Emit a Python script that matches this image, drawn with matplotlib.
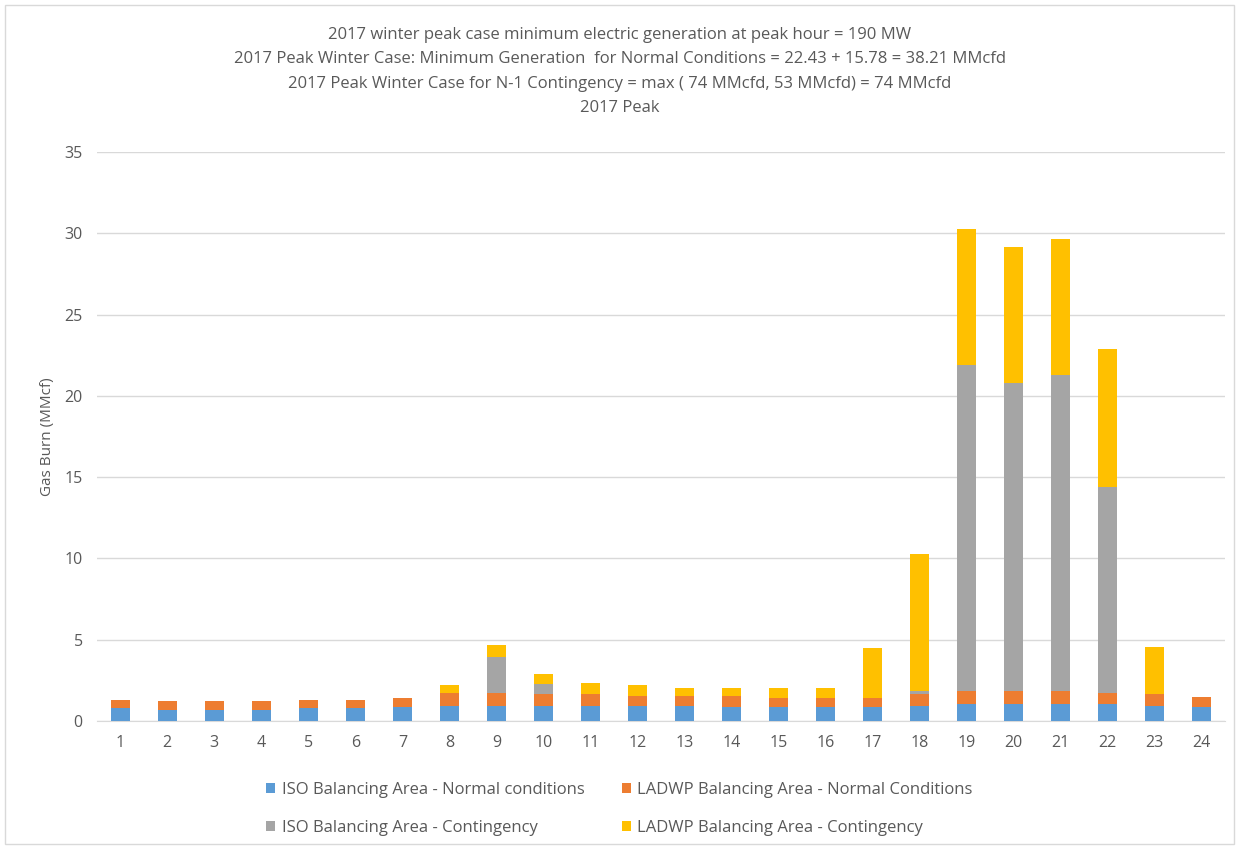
import numpy as np
import matplotlib
matplotlib.use("Agg")
import matplotlib.pyplot as plt
from matplotlib.patches import Rectangle

plt.rcParams['font.family'] = ['Open Sans', 'DejaVu Sans']

hours = list(range(1, 25))
iso_normal = [0.76, 0.66, 0.66, 0.66, 0.76, 0.76, 0.82, 0.92, 0.92, 0.92, 0.92, 0.92,
              0.92, 0.82, 0.82, 0.82, 0.82, 0.92, 1.04, 1.04, 1.04, 1.04, 0.92, 0.82]
ladwp_normal = [0.51, 0.53, 0.53, 0.53, 0.51, 0.51, 0.61, 0.76, 0.76, 0.72, 0.72, 0.60,
                0.60, 0.70, 0.61, 0.61, 0.61, 0.72, 0.77, 0.77, 0.77, 0.70, 0.73, 0.64]
iso_cont = [0, 0, 0, 0, 0, 0, 0, 0.06, 2.26, 0.62, 0, 0,
            0, 0, 0, 0, 0, 0.17, 20.07, 18.99, 19.44, 12.66, 0, 0]
ladwp_cont = [0, 0, 0, 0, 0, 0, 0, 0.45, 0.71, 0.65, 0.66, 0.67,
              0.47, 0.47, 0.56, 0.56, 3.02, 8.46, 8.40, 8.38, 8.40, 8.47, 2.91, 0]

series = [
    ("ISO Balancing Area - Normal conditions", iso_normal, "#5B9BD5"),
    ("LADWP Balancing Area - Normal Conditions", ladwp_normal, "#ED7D31"),
    ("ISO Balancing Area - Contingency", iso_cont, "#A5A5A5"),
    ("LADWP Balancing Area - Contingency", ladwp_cont, "#FFC000"),
]

title_lines = [
    "2017 winter peak case minimum electric generation at peak hour = 190 MW",
    "2017 Peak Winter Case: Minimum Generation  for Normal Conditions = 22.43 + 15.78 = 38.21 MMcfd",
    "2017 Peak Winter Case for N-1 Contingency = max ( 74 MMcfd, 53 MMcfd) = 74 MMcfd",
    "2017 Peak",
]

txt = "#595959"
fig = plt.figure(figsize=(12.39, 8.47), dpi=100)
ax = fig.add_axes([0.078, 0.149, 0.911, 0.6715])

bottom = np.zeros(len(hours))
handles = []
for label, vals, col in series:
    b = ax.bar(hours, vals, width=0.4, bottom=bottom, color=col, label=label, zorder=3)
    bottom += np.array(vals)
    handles.append(b)

ax.set_xlim(0.5, 24.5)
ax.set_ylim(0, 35)
ax.set_yticks(range(0, 36, 5))
ax.set_xticks(hours)
ax.grid(axis='y', color='#D9D9D9', linewidth=1, zorder=0)
for s in ['top', 'right', 'left']:
    ax.spines[s].set_visible(False)
ax.spines['bottom'].set_color('#D9D9D9')
ax.tick_params(axis='both', length=0, labelsize=11.5, colors=txt, pad=10)
ax.set_ylabel("Gas Burn (MMcf)", fontsize=11, color=txt, labelpad=7)

for i, line in enumerate(title_lines):
    fig.text(0.5, 1 - (35 + 24.3 * i) / 847, line, ha='center', va='center',
             fontsize=12, color=txt)

# matplotlib fills legend columns first, so reorder to get row-major layout
order = [0, 2, 1, 3]
fig.legend(handles=[handles[i] for i in order],
           labels=[series[i][0] for i in order], ncol=2, loc='center',
           bbox_to_anchor=(0.5, 1 - 809 / 847), frameon=False, fontsize=12,
           labelcolor=txt, handlelength=0.55, handleheight=0.55, handletextpad=0.4,
           columnspacing=2.2, labelspacing=1.35)

fig.patches.append(Rectangle((0.004, 0.004), 0.992, 0.99, transform=fig.transFigure,
                             fill=False, edgecolor='#D9D9D9', linewidth=1))

fig.savefig("out.png", dpi=100)
